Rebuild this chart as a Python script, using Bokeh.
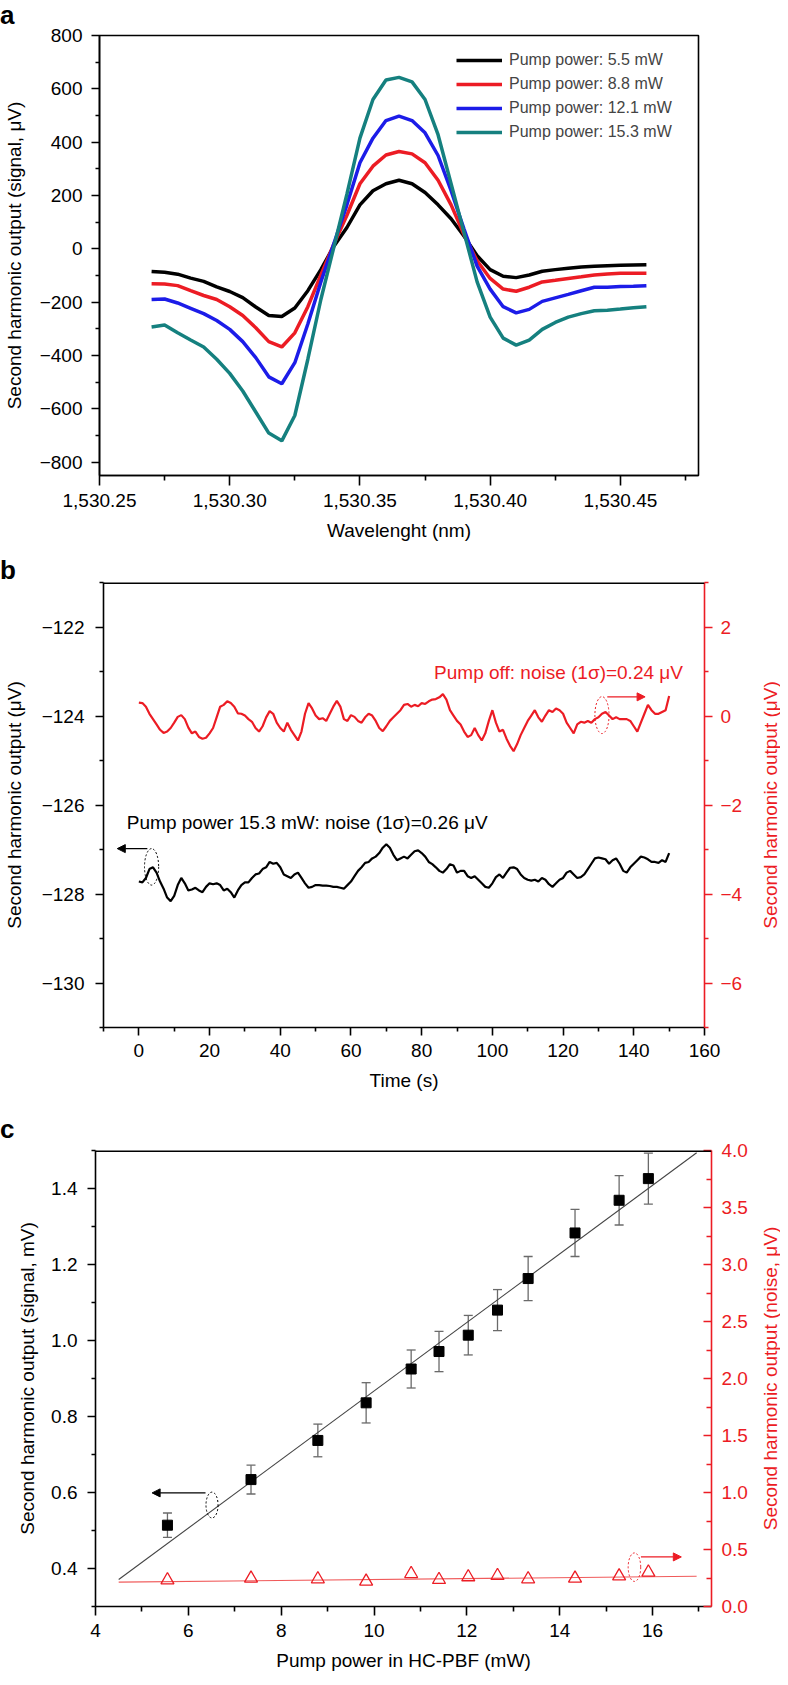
import math
from bokeh.plotting import figure
from bokeh.models import (Range1d, LinearAxis, FixedTicker, NumeralTickFormatter,
                          CustomJSTickFormatter, Legend, LegendItem, Label, Arrow,
                          NormalHead, Whisker, TeeHead, ColumnDataSource, Span, Div)
from bokeh.layouts import column, row
from bokeh.embed import file_html
from bokeh.resources import INLINE

FONT = "Liberation Sans"
RED = "#ec1c24"

# ---------------- panel a data ----------------
wavelength_nm = [1530.270, 1530.275, 1530.280, 1530.285, 1530.290, 1530.295, 1530.300,
                 1530.305, 1530.310, 1530.315, 1530.320, 1530.325, 1530.330, 1530.335,
                 1530.340, 1530.345, 1530.350, 1530.355, 1530.360, 1530.365, 1530.370,
                 1530.375, 1530.380, 1530.385, 1530.390, 1530.395, 1530.400, 1530.405,
                 1530.410, 1530.415, 1530.420, 1530.425, 1530.430, 1530.435, 1530.440,
                 1530.445, 1530.450, 1530.455, 1530.460]
sh_5_5mw = [-85, -88, -95, -110, -122, -143, -160, -183, -218, -250, -254, -222, -157, -78,
            10, 80, 165, 218, 244, 257, 244, 211, 165, 113, 47, -26, -78, -103, -108, -98,
            -84, -78, -73, -68, -65, -63, -62, -61, -60]
sh_8_8mw = [-131, -132, -138, -157, -175, -190, -217, -250, -296, -348, -368, -315, -217, -98,
            18, 126, 244, 310, 352, 365, 356, 323, 257, 165, 53, -45, -111, -151, -159, -144,
            -124, -118, -111, -105, -98, -94, -92, -92, -92]
sh_12_1mw = [-190, -188, -203, -223, -243, -269, -302, -348, -408, -480, -506, -427, -282, -124,
             20, 165, 323, 415, 481, 498, 481, 435, 350, 218, 73, -65, -151, -217, -240, -227,
             -197, -184, -171, -157, -144, -144, -141, -140, -138]
sh_15_3mw = [-293, -286, -315, -342, -368, -414, -467, -533, -612, -691, -720, -625, -414, -190,
             7, 205, 415, 560, 633, 643, 626, 560, 428, 244, 60, -124, -256, -335, -361, -342,
             -302, -276, -256, -243, -232, -230, -226, -221, -217]
legend_labels_a = ["Pump power: 5.5 mW", "Pump power: 8.8 mW",
                   "Pump power: 12.1 mW", "Pump power: 15.3 mW"]
colors_a = ["#000000", "#ec1c24", "#1c1ce8", "#15807f"]
xticks_a = [1530.25, 1530.30, 1530.35, 1530.40, 1530.45]
xminor_a = [1530.275, 1530.325, 1530.375, 1530.425, 1530.475]
yticks_a = [-800, -600, -400, -200, 0, 200, 400, 600, 800]
yminor_a = [-700, -500, -300, -100, 100, 300, 500, 700]

# ---------------- panel b data ----------------
time_s = [0, 1, 2, 3, 4, 5, 6, 7, 8, 9, 10, 11, 12, 13, 14, 15, 16, 17, 18, 19,
          20, 21, 22, 23, 24, 25, 26, 27, 28, 29, 30, 31, 32, 33, 34, 35, 36, 37, 38, 39,
          40, 41, 42, 43, 44, 45, 46, 47, 48, 49, 50, 51, 52, 53, 54, 55, 56, 57, 58, 59,
          60, 61, 62, 63, 64, 65, 66, 67, 68, 69, 70, 71, 72, 73, 74, 75, 76, 77, 78, 79,
          80, 81, 82, 83, 84, 85, 86, 87, 88, 89, 90, 91, 92, 93, 94, 95, 96, 97, 98, 99,
          100, 101, 102, 103, 104, 105, 106, 107, 108, 109, 110, 111, 112, 113, 114, 115,
          116, 117, 118, 119, 120, 121, 122, 123, 124, 125, 126, 127, 128, 129, 130, 131,
          132, 133, 134, 135, 136, 137, 138, 139, 140, 141, 142, 143, 144, 145, 146, 147,
          148, 149, 150]
sh_pump_on = [-127.72, -127.74, -127.64, -127.44, -127.40, -127.52, -127.72, -127.88, -128.08, -128.16,
              -128.04, -127.80, -127.64, -127.76, -127.92, -127.90, -127.86, -127.92, -127.96, -127.84,
              -127.76, -127.78, -127.76, -127.80, -127.92, -127.88, -127.96, -128.08, -127.92, -127.80,
              -127.74, -127.74, -127.64, -127.56, -127.54, -127.44, -127.40, -127.28, -127.32, -127.30,
              -127.40, -127.56, -127.60, -127.64, -127.56, -127.52, -127.64, -127.76, -127.86, -127.84,
              -127.80, -127.80, -127.81, -127.81, -127.82, -127.84, -127.84, -127.86, -127.88, -127.80,
              -127.72, -127.60, -127.48, -127.40, -127.30, -127.28, -127.20, -127.16, -127.08, -126.96,
              -126.88, -126.96, -127.12, -127.24, -127.20, -127.16, -127.20, -127.12, -127.04, -127.02,
              -127.08, -127.16, -127.28, -127.33, -127.40, -127.48, -127.52, -127.44, -127.33, -127.36,
              -127.52, -127.48, -127.48, -127.60, -127.64, -127.60, -127.68, -127.76, -127.84, -127.86,
              -127.76, -127.62, -127.56, -127.64, -127.52, -127.41, -127.40, -127.44, -127.56, -127.64,
              -127.68, -127.70, -127.68, -127.72, -127.64, -127.68, -127.78, -127.84, -127.76, -127.68,
              -127.64, -127.52, -127.48, -127.56, -127.64, -127.62, -127.56, -127.44, -127.32, -127.20,
              -127.18, -127.20, -127.22, -127.32, -127.24, -127.20, -127.32, -127.48, -127.52, -127.40,
              -127.32, -127.24, -127.16, -127.18, -127.22, -127.28, -127.28, -127.30, -127.24, -127.28,
              -127.08]
sh_pump_off = [0.30, 0.29, 0.21, 0.05, -0.07, -0.19, -0.31, -0.38, -0.35, -0.27,
               -0.15, -0.02, 0.02, -0.07, -0.26, -0.39, -0.35, -0.47, -0.51, -0.49,
               -0.39, -0.27, -0.03, 0.21, 0.25, 0.33, 0.29, 0.21, 0.06, 0.05,
               0.01, -0.07, -0.13, -0.27, -0.35, -0.23, -0.03, 0.11, 0.05, -0.15,
               -0.27, -0.35, -0.15, -0.31, -0.43, -0.55, -0.35, 0.05, 0.29, 0.17,
               0.01, -0.07, -0.05, -0.11, 0.05, 0.21, 0.34, 0.21, -0.07, -0.11,
               0.02, -0.02, -0.11, -0.15, -0.03, 0.05, 0.01, -0.11, -0.27, -0.34,
               -0.23, -0.11, -0.03, 0.05, 0.13, 0.25, 0.27, 0.21, 0.25, 0.22,
               0.29, 0.27, 0.33, 0.37, 0.38, 0.42, 0.49, 0.37, 0.13, 0.01,
               -0.11, -0.19, -0.35, -0.47, -0.43, -0.27, -0.43, -0.55, -0.39, -0.11,
               0.13, -0.15, -0.35, -0.31, -0.51, -0.67, -0.79, -0.63, -0.43, -0.27,
               -0.11, 0.01, 0.13, -0.03, -0.13, 0.01, 0.13, 0.09, 0.17, 0.13,
               0.05, -0.15, -0.27, -0.39, -0.19, -0.13, -0.15, -0.11, -0.15, -0.07,
               -0.03, 0.05, 0.09, 0.01, -0.07, -0.03, -0.07, -0.07, -0.07, -0.11,
               -0.23, -0.35, -0.15, 0.05, 0.25, 0.13, 0.05, 0.05, 0.09, 0.13,
               0.45]
text_on_b = "Pump power 15.3 mW: noise (1\u03c3)=0.26 \u03bcV"
text_off_b = "Pump off: noise (1\u03c3)=0.24 \u03bcV"
ylabel_b = "Second harmonic output (\u03bcV)"
xticks_b = [0, 20, 40, 60, 80, 100, 120, 140, 160]
xminor_b = [-10, 10, 30, 50, 70, 90, 110, 130, 150]
yticks_b = [-130, -128, -126, -124, -122]
yminor_b = [-131, -129, -127, -125, -123, -121]
rticks_b = [-6, -4, -2, 0, 2]
rminor_b = [-7, -5, -3, -1, 1, 3]
# annotation anchors in data units
ann_text_on_b = (-3.4, -126.39)
ann_text_off_b = (153.9, -123.03)
ann_arrow_on_b = (2.4, -6.1, -126.98)
ann_arrow_off_b = (132.5, 143.2, 0.43)
ann_ellipse_on_b = (3.6, -127.39, 4.0, 0.82)
ann_ellipse_off_b = (131.0, 0.02, 4.0, 0.83)

# ---------------- panel c data ----------------
pump_mw = [5.55, 7.35, 8.79, 9.83, 10.80, 11.40, 12.03, 12.66, 13.32, 14.33, 15.28, 15.91]
signal_mv = [0.514, 0.634, 0.737, 0.836, 0.925, 0.971, 1.014, 1.080, 1.163, 1.283, 1.369, 1.426]
signal_err = [0.032, 0.038, 0.043, 0.053, 0.050, 0.053, 0.052, 0.054, 0.058, 0.062, 0.065, 0.067]
noise_uv = [0.232, 0.247, 0.241, 0.220, 0.287, 0.235, 0.259, 0.270, 0.241, 0.247, 0.267, 0.300]
fit_signal_x = [4.5, 16.95]
fit_signal_y = [0.371, 1.494]
fit_noise_x = [4.5, 16.95]
fit_noise_y = [0.214, 0.265]
ylabel_c_right = "Second harmonic output (noise, \u03bcV)"
xticks_c = [4, 6, 8, 10, 12, 14, 16]
xminor_c = [5, 7, 9, 11, 13, 15, 17]
yticks_c = [0.4, 0.6, 0.8, 1.0, 1.2, 1.4]
yminor_c = [0.3, 0.5, 0.7, 0.9, 1.1, 1.3, 1.5]
rticks_c = [0.0, 0.5, 1.0, 1.5, 2.0, 2.5, 3.0, 3.5, 4.0]
rminor_c = [0.25, 0.75, 1.25, 1.75, 2.25, 2.75, 3.25, 3.75]
ann_arrow_sig_c = (6.37, 5.22, 0.599)
ann_arrow_noise_c = (15.75, 16.62, 0.435)
ann_ellipse_sig_c = (6.51, 0.567, 0.26, 0.068)
ann_ellipse_noise_c = (15.61, 0.345, 0.27, 0.25)


def minus_fmt():
    return CustomJSTickFormatter(code="""
        const s = Math.abs(tick).toFixed(0);
        return tick < 0 ? "\\u2212" + s : s;
    """)


def style_axis(ax, color="black", out_major=8, out_minor=4, in_major=0, in_minor=0,
               standoff=8, label_standoff=8):
    ax.axis_line_color = color
    ax.axis_line_width = 1.6
    ax.major_tick_line_color = color
    ax.minor_tick_line_color = color
    ax.major_tick_line_width = 1.6
    ax.minor_tick_line_width = 1.6
    ax.major_tick_out = out_major
    ax.major_tick_in = in_major
    ax.minor_tick_out = out_minor
    ax.minor_tick_in = in_minor
    ax.major_label_text_font = FONT
    ax.major_label_text_font_size = "19px"
    ax.major_label_text_color = color
    ax.major_label_standoff = standoff
    ax.axis_label_text_font = FONT
    ax.axis_label_text_font_size = "19px"
    ax.axis_label_text_font_style = "normal"
    ax.axis_label_text_color = color
    ax.axis_label_standoff = label_standoff


def letter(text, height, shift):
    return Div(text='<span style="position:relative;top:%dpx">%s</span>' % (shift, text),
               width=780, height=height, margin=0,
               styles={"font-family": FONT, "font-size": "26px", "font-weight": "bold",
                       "line-height": "16px", "color": "black"})


def side_label(width, height, text, x):
    f = figure(width=width, height=height, x_range=Range1d(0, width), y_range=Range1d(0, 1),
               x_axis_type=None, y_axis_type=None, title=None, output_backend="svg",
               toolbar_location=None, min_border=0, min_border_left=0, min_border_right=0,
               min_border_top=0, min_border_bottom=0)
    f.grid.visible = False
    f.outline_line_color = None
    f.add_layout(Label(x=x, y=0.5, text=text, angle=math.pi / 2, text_font=FONT,
                       text_font_size="19px", text_color=RED, text_align="center",
                       text_baseline="middle"))
    return f


# ================= panel a =================
head_a = letter("a", 24, 7)
p1 = figure(width=780, height=524, x_range=Range1d(1530.25, 1530.48),
            y_range=Range1d(-850, 800), output_backend="svg", toolbar_location=None, title=None,
            min_border_left=94, min_border_right=82, min_border_top=11, min_border_bottom=73)
p1.grid.visible = False
p1.outline_line_color = "black"
p1.outline_line_width = 1.6
rends = []
for ys, c in zip([sh_5_5mw, sh_8_8mw, sh_12_1mw, sh_15_3mw], colors_a):
    rends.append(p1.line(wavelength_nm, ys, line_color=c, line_width=3.5))
xa = p1.xaxis[0]
xa.ticker = FixedTicker(ticks=xticks_a, minor_ticks=xminor_a)
xa.formatter = NumeralTickFormatter(format="0,0.00")
xa.axis_label = "Wavelenght (nm)"
style_axis(xa, out_major=10, out_minor=5, standoff=8, label_standoff=10)
ya = p1.yaxis[0]
ya.ticker = FixedTicker(ticks=yticks_a, minor_ticks=yminor_a)
ya.formatter = minus_fmt()
ya.axis_label = "Second harmonic output (signal, \u03bcV)"
style_axis(ya, standoff=9, label_standoff=12)
legend = Legend(items=[LegendItem(label=l, renderers=[r]) for l, r in zip(legend_labels_a, rends)],
                location=(357, 333), orientation="vertical", padding=0, margin=0, spacing=4,
                glyph_width=46, glyph_height=20, label_height=20, label_standoff=7,
                label_text_font=FONT, label_text_font_size="16px",
                background_fill_alpha=0, border_line_alpha=0)
p1.add_layout(legend)

# ================= panel b =================
head_b = letter("b", 32, 14)
p2 = figure(width=756, height=524, x_range=Range1d(-10, 160), y_range=Range1d(-131, -121),
            output_backend="svg", toolbar_location=None, title=None,
            min_border_left=101, min_border_right=52, min_border_top=2, min_border_bottom=77)
p2.extra_y_ranges = {"right": Range1d(-7, 3)}
p2.grid.visible = False
p2.outline_line_color = None
p2.add_layout(Span(location=-121, dimension="width", line_color="black", line_width=3.2))
p2.line(time_s, sh_pump_on, line_color="black", line_width=2.2)
p2.line(time_s, sh_pump_off, line_color=RED, line_width=2.2, y_range_name="right")
xb = p2.xaxis[0]
xb.ticker = FixedTicker(ticks=xticks_b, minor_ticks=xminor_b)
xb.axis_label = "Time (s)"
style_axis(xb, standoff=8, label_standoff=10)
yb = p2.yaxis[0]
yb.ticker = FixedTicker(ticks=yticks_b, minor_ticks=yminor_b)
yb.formatter = minus_fmt()
yb.axis_label = ylabel_b
style_axis(yb, standoff=11, label_standoff=14)
rb = LinearAxis(y_range_name="right")
rb.ticker = FixedTicker(ticks=rticks_b, minor_ticks=rminor_b)
rb.formatter = minus_fmt()
style_axis(rb, color=RED, standoff=8)
p2.add_layout(rb, "right")
p2.add_layout(Label(x=ann_text_on_b[0], y=ann_text_on_b[1], text=text_on_b, text_font=FONT,
                    text_font_size="19px", text_color="black", text_align="left",
                    text_baseline="middle"))
p2.add_layout(Label(x=ann_text_off_b[0], y=ann_text_off_b[1], text=text_off_b, text_font=FONT,
                    text_font_size="19px", text_color=RED, text_align="right",
                    text_baseline="middle"))
p2.add_layout(Arrow(x_start=ann_arrow_on_b[0], x_end=ann_arrow_on_b[1], y_start=ann_arrow_on_b[2],
                    y_end=ann_arrow_on_b[2], line_color="black", line_width=1.4,
                    end=NormalHead(size=8, fill_color="black", line_color="black")))
p2.add_layout(Arrow(x_start=ann_arrow_off_b[0], x_end=ann_arrow_off_b[1], y_start=ann_arrow_off_b[2],
                    y_end=ann_arrow_off_b[2], line_color=RED, line_width=1.4, y_range_name="right",
                    end=NormalHead(size=8, fill_color=RED, line_color=RED)))
p2.ellipse(x=[ann_ellipse_on_b[0]], y=[ann_ellipse_on_b[1]], width=ann_ellipse_on_b[2],
           height=ann_ellipse_on_b[3], fill_color=None, line_color="black", line_width=1,
           line_dash="2 2")
p2.ellipse(x=[ann_ellipse_off_b[0]], y=[ann_ellipse_off_b[1]], width=ann_ellipse_off_b[2],
           height=ann_ellipse_off_b[3], fill_color=None, line_color=RED, line_width=1,
           line_dash="2 2", y_range_name="right")
side_b = side_label(24, 524, ylabel_b, 14)

# ================= panel c =================
head_c = letter("c", 34, 17)
p3 = figure(width=756, height=539, x_range=Range1d(4, 17.27), y_range=Range1d(0.3, 1.5),
            output_backend="svg", toolbar_location=None, title=None,
            min_border_left=95, min_border_right=45, min_border_top=12, min_border_bottom=71)
p3.extra_y_ranges = {"right": Range1d(0, 4)}
p3.grid.visible = False
p3.outline_line_color = None
p3.add_layout(Span(location=1.5, dimension="width", line_color="black", line_width=3.2))
p3.line(fit_signal_x, fit_signal_y, line_color="#444444", line_width=1.1)
p3.line(fit_noise_x, fit_noise_y, line_color="#f05a5a", line_width=1.1, y_range_name="right")
err_src = ColumnDataSource(dict(x=pump_mw,
                                upper=[s + e for s, e in zip(signal_mv, signal_err)],
                                lower=[s - e for s, e in zip(signal_mv, signal_err)]))
p3.add_layout(Whisker(source=err_src, base="x", upper="upper", lower="lower",
                      line_color="#6a6a6a", line_width=1.3,
                      upper_head=TeeHead(size=9, line_color="#6a6a6a", line_width=1.3),
                      lower_head=TeeHead(size=9, line_color="#6a6a6a", line_width=1.3)))
p3.scatter(pump_mw, signal_mv, marker="square", size=10, fill_color="black", line_color="black")
p3.scatter(pump_mw, noise_uv, marker="triangle", size=13, fill_color=None, line_color=RED,
           line_width=1.3, y_range_name="right")
xc = p3.xaxis[0]
xc.ticker = FixedTicker(ticks=xticks_c, minor_ticks=xminor_c)
xc.axis_label = "Pump power in HC-PBF (mW)"
style_axis(xc, out_major=9, out_minor=5, standoff=8, label_standoff=10)
yc = p3.yaxis[0]
yc.ticker = FixedTicker(ticks=yticks_c, minor_ticks=yminor_c)
yc.formatter = NumeralTickFormatter(format="0.0")
yc.axis_label = "Second harmonic output (signal, mV)"
style_axis(yc, standoff=10, label_standoff=10)
rc = LinearAxis(y_range_name="right")
rc.ticker = FixedTicker(ticks=rticks_c, minor_ticks=rminor_c)
rc.formatter = NumeralTickFormatter(format="0.0")
style_axis(rc, color=RED, out_major=0, out_minor=0, in_major=8, in_minor=5, standoff=10)
p3.add_layout(rc, "right")
p3.add_layout(Arrow(x_start=ann_arrow_sig_c[0], x_end=ann_arrow_sig_c[1], y_start=ann_arrow_sig_c[2],
                    y_end=ann_arrow_sig_c[2], line_color="black", line_width=1.4,
                    end=NormalHead(size=8, fill_color="black", line_color="black")))
p3.add_layout(Arrow(x_start=ann_arrow_noise_c[0], x_end=ann_arrow_noise_c[1],
                    y_start=ann_arrow_noise_c[2], y_end=ann_arrow_noise_c[2], line_color=RED,
                    line_width=1.4, y_range_name="right",
                    end=NormalHead(size=8, fill_color=RED, line_color=RED)))
p3.ellipse(x=[ann_ellipse_sig_c[0]], y=[ann_ellipse_sig_c[1]], width=ann_ellipse_sig_c[2],
           height=ann_ellipse_sig_c[3], fill_color=None, line_color="black", line_width=1,
           line_dash="2 2")
p3.ellipse(x=[ann_ellipse_noise_c[0]], y=[ann_ellipse_noise_c[1]], width=ann_ellipse_noise_c[2],
           height=ann_ellipse_noise_c[3], fill_color=None, line_color=RED, line_width=1,
           line_dash="2 2", y_range_name="right")
side_c = side_label(24, 539, ylabel_c_right, 14)

layout = column(head_a, p1, head_b, row(p2, side_b, spacing=0), head_c, row(p3, side_c, spacing=0),
                spacing=0)
open("out.html", "w").write(file_html(layout, INLINE, title="Second harmonic output"))
